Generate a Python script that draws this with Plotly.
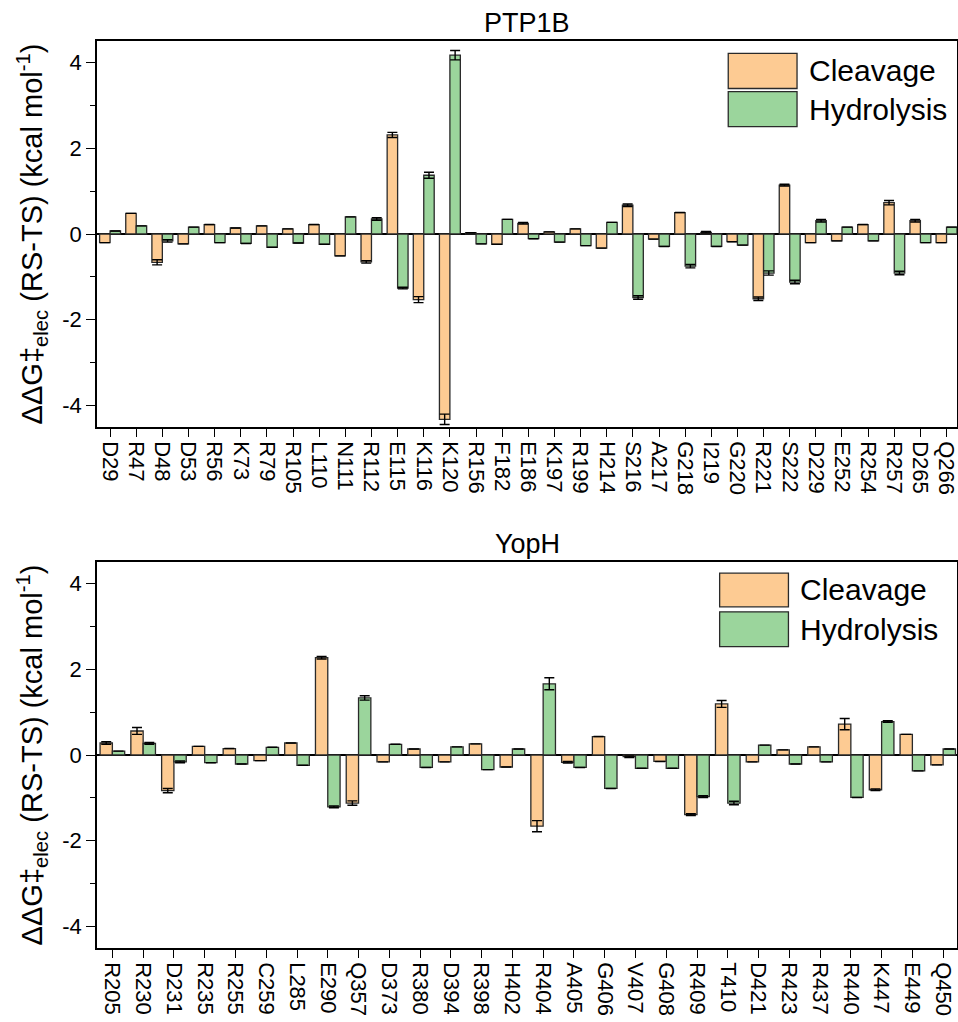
import plotly.graph_objects as go

# ---------------- data ----------------
ptp_res = ["D29", "R47", "D48", "D53", "R56", "K73", "R79", "R105", "L110", "N111", "R112",
           "E115", "K116", "K120", "R156", "F182", "E186", "K197", "R199", "H214", "S216",
           "A217", "G218", "I219", "G220", "R221", "S222", "D229", "E252", "R254", "R257",
           "D265", "Q266"]
ptp_cleav = [-0.20, 0.48, -0.66, -0.23, 0.22, 0.14, 0.19, 0.12, 0.22, -0.51, -0.65,
             2.31, -1.53, -4.32, 0.03, -0.24, 0.25, 0.05, 0.12, -0.33, 0.67,
             -0.12, 0.50, 0.04, -0.18, -1.51, 1.14, -0.20, -0.16, 0.22, 0.73,
             0.31, -0.20]
ptp_cleav_err = [0, 0, 0.06, 0, 0, 0, 0, 0, 0, 0, 0.03,
                 0.06, 0.07, 0.12, 0, 0, 0.02, 0, 0, 0, 0.03,
                 0, 0, 0.02, 0, 0.04, 0.02, 0, 0, 0, 0.05,
                 0.03, 0]
ptp_hydro = [0.07, 0.19, -0.16, 0.16, -0.20, -0.22, -0.31, -0.21, -0.24, 0.40, 0.35,
             -1.26, 1.37, 4.17, -0.23, 0.34, -0.11, -0.19, -0.27, 0.27, -1.48,
             -0.29, -0.75, -0.29, -0.26, -0.91, -1.12, 0.31, 0.16, -0.16, -0.91,
             -0.20, 0.16]
ptp_hydro_err = [0, 0, 0.03, 0, 0, 0, 0, 0, 0, 0, 0.03,
                 0.02, 0.07, 0.11, 0, 0, 0, 0, 0, 0, 0.04,
                 0, 0.04, 0, 0, 0.05, 0.04, 0.03, 0, 0, 0.04,
                 0, 0]

yop_res = ["R205", "R230", "D231", "R235", "R255", "C259", "L285", "E290", "Q357", "D373",
           "R380", "D394", "R398", "H402", "R404", "A405", "G406", "V407", "G408", "R409",
           "T410", "D421", "R423", "R437", "R440", "K447", "E449", "Q450"]
yop_cleav = [0.28, 0.56, -0.83, 0.20, 0.15, -0.13, 0.28, 2.27, -1.12, -0.16,
             0.14, -0.16, 0.26, -0.28, -1.66, -0.17, 0.43, -0.04, -0.15, -1.39,
             1.19, -0.16, 0.12, 0.19, 0.72, -0.81, 0.48, -0.23]
yop_cleav_err = [0.03, 0.08, 0.05, 0, 0, 0, 0, 0.03, 0.05, 0,
                 0, 0, 0, 0, 0.13, 0.02, 0, 0.02, 0, 0.02,
                 0.08, 0, 0, 0, 0.13, 0.02, 0, 0]
yop_hydro = [0.09, 0.27, -0.16, -0.18, -0.21, 0.18, -0.24, -1.21, 1.33, 0.25,
             -0.29, 0.19, -0.34, 0.14, 1.66, -0.29, -0.78, -0.31, -0.31, -0.97,
             -1.12, 0.23, -0.21, -0.16, -0.99, 0.78, -0.37, 0.14]
yop_hydro_err = [0, 0.02, 0.02, 0, 0, 0, 0, 0.02, 0.05, 0,
                 0, 0, 0, 0, 0.14, 0, 0, 0, 0, 0.02,
                 0.04, 0, 0, 0, 0, 0.02, 0, 0]

series_names = ["Cleavage", "Hydrolysis"]
titles = ["PTP1B", "YopH"]
y_tickvals = [-4, -2, 0, 2, 4]
y_ticktext = ["-4", "-2", "0", "2", "4"]

# ---------------- style ----------------
FONT = "Arial, Liberation Sans, sans-serif"
C_CLEAV = "#FDCB93"
C_HYDRO = "#9BD59C"
OUTLINE = "#2a2a2a"
colors = [C_CLEAV, C_HYDRO]

fig = go.Figure()


def add_bars(cats, vals, errs, color, xa, ya, name):
    fig.add_trace(go.Bar(
        x=cats, y=vals, name=name, xaxis=xa, yaxis=ya, showlegend=False,
        marker=dict(color=color, line=dict(color=OUTLINE, width=1.3)),
        error_y=dict(type="data", array=errs, visible=True,
                     color="black", thickness=1.4, width=5),
        offsetgroup=name,
    ))


add_bars(ptp_res, ptp_cleav, ptp_cleav_err, C_CLEAV, "x", "y", "Cleavage")
add_bars(ptp_res, ptp_hydro, ptp_hydro_err, C_HYDRO, "x", "y", "Hydrolysis")
add_bars(yop_res, yop_cleav, yop_cleav_err, C_CLEAV, "x2", "y2", "Cleavage")
add_bars(yop_res, yop_hydro, yop_hydro_err, C_HYDRO, "x2", "y2", "Hydrolysis")

W, H = 958, 1022
ML, MR, MT, MB = 97, 1, 41, 74
ph = H - MT - MB
top_dom = [(948 - 427) / ph, 1.0]
bot_dom = [0.0, (948 - 562) / ph]

ytitle = "ΔΔG‡<sub>elec</sub> (RS-TS) (kcal mol<sup>-1</sup>)"

xcommon = dict(type="category", showline=True, linecolor="black", linewidth=1.5,
               mirror=True, ticks="outside", ticklen=8, tickwidth=1.3, tickcolor="black",
               tickangle=90, tickfont=dict(family=FONT, size=22, color="black"),
               showgrid=False, zeroline=False, automargin=False)
ycommon = dict(range=[-4.5, 4.5], tickvals=y_tickvals, ticktext=y_ticktext,
               showline=True, linecolor="black",
               linewidth=1.5, mirror=True, ticks="outside", ticklen=9, tickwidth=1.3,
               tickcolor="black", tickfont=dict(family=FONT, size=22, color="black"),
               minor=dict(dtick=1, tick0=0, ticks="outside", ticklen=5, tickwidth=1.3,
                          tickcolor="black", showgrid=False),
               showgrid=False, zeroline=True, zerolinecolor="black", zerolinewidth=1.5,
               automargin=False,
               title=dict(text=ytitle, font=dict(family=FONT, size=29, color="black"),
                          standoff=11))

fig.update_layout(
    width=W, height=H,
    margin=dict(l=ML, r=MR, t=MT, b=MB),
    paper_bgcolor="white", plot_bgcolor="white",
    barmode="group", bargap=0.2, bargroupgap=0.0,
    font=dict(family=FONT, color="black"),
    showlegend=False,
    xaxis=dict(xcommon, domain=[0, 1], anchor="y", range=[-0.5, 32.4]),
    yaxis=dict(ycommon, domain=top_dom, anchor="x"),
    xaxis2=dict(xcommon, domain=[0, 1], anchor="y2", range=[-0.5, 27.45]),
    yaxis2=dict(ycommon, domain=bot_dom, anchor="x2"),
)

# subplot titles
for t, xr, yr in [(titles[0], "x domain", "y domain"), (titles[1], "x2 domain", "y2 domain")]:
    fig.add_annotation(text=t, xref=xr, yref=yr, x=0.5, y=1, yanchor="bottom",
                       xanchor="center", yshift=1, showarrow=False,
                       font=dict(family=FONT, size=27, color="black"))

# legends (drawn as boxes + text inside each panel)
legend_specs = [
    ("x domain", "y domain", 0.734, 0.814, [(0.877, 0.968), (0.778, 0.869)], 0.825),
    ("x2 domain", "y2 domain", 0.724, 0.804, [(0.884, 0.971), (0.781, 0.871)], 0.815),
]
for xr, yr, x0, x1, boxes, tx in legend_specs:
    for (y0, y1), col, nm in zip(boxes, colors, series_names):
        fig.add_shape(type="rect", xref=xr, yref=yr, x0=x0, x1=x1, y0=y0, y1=y1,
                      fillcolor=col, line=dict(color=OUTLINE, width=1.3))
        fig.add_annotation(text=nm, xref=xr, yref=yr, x=tx, y=(y0 + y1) / 2,
                           xanchor="left", yanchor="middle", showarrow=False,
                           font=dict(family=FONT, size=30, color="black"))

fig.write_html("out.html")
